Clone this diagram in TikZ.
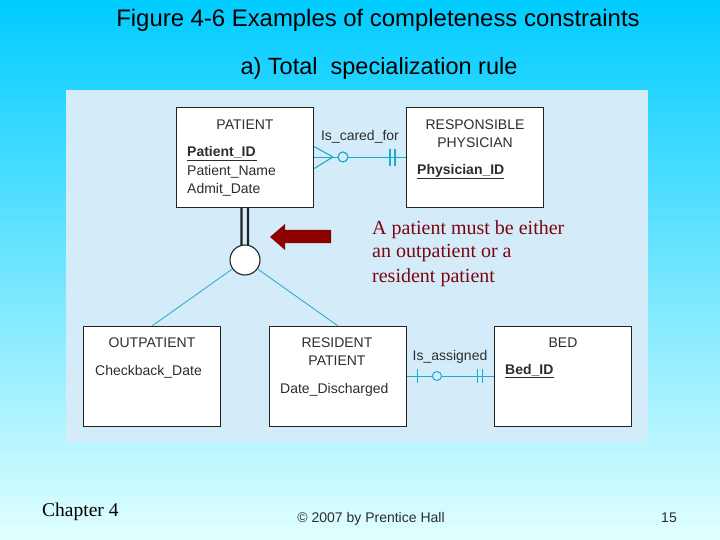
\documentclass[tikz,border=0pt]{standalone}
\usepackage{fontspec}
\setmainfont{Liberation Sans}
\newfontfamily\seriffont{Liberation Serif}
\definecolor{bgtop}{RGB}{0,204,255}
\definecolor{bgmid}{RGB}{140,222,252}
\definecolor{bgbot}{RGB}{225,255,255}
\definecolor{panel}{RGB}{212,236,250}
\definecolor{conn}{RGB}{30,170,200}
\definecolor{dred}{RGB}{140,0,0}
\definecolor{txtred}{RGB}{125,5,15}
\definecolor{boxtxt}{RGB}{45,45,45}
\definecolor{boxline}{RGB}{35,35,35}
\tikzset{
  entity/.style={draw=boxline, line width=1.1pt, fill=white, minimum width=137pt, minimum height=100pt, inner sep=0pt, anchor=north west},
  etext/.style={text=boxtxt, font=\fontsize{14}{17}\selectfont, inner sep=0pt},
  rel/.style={draw=conn, line width=1.6pt},
  subline/.style={draw=conn, line width=0.8pt},
  bar/.style={draw=conn, line width=1.2pt},
  redtext/.style={text=txtred, font=\seriffont\fontsize{20}{24}\selectfont, inner sep=0pt, anchor=base west}
}
\begin{document}
\begin{tikzpicture}[x=1pt, y=-1pt]
\useasboundingbox (0,0) rectangle (720,540);
\shade[top color=bgtop, middle color=bgmid, bottom color=bgbot] (0,0) rectangle (720,540);
\fill[panel] (66,90) rectangle (648,442);

% titles
\node[inner sep=0pt, anchor=base, font=\fontsize{23.9}{28}\selectfont] (title) at (378,27) {Figure 4-6 Examples of completeness constraints};
\node[inner sep=0pt, anchor=base, font=\fontsize{23.5}{28}\selectfont] (sub) at (379,75) {a) Total\ \ specialization rule};

% entities
\node[entity] (pat) at (176,107) {};
\node[entity] (phy) at (406,107) {};
\node[entity] (out) at (83,326) {};
\node[entity] (res) at (269,326) {};
\node[entity] (bed) at (494,326) {};

% entity texts
\node[etext, anchor=base] (patT) at (245,130) {PATIENT};
\node[etext, anchor=base west] (patA) at (187,157) {\textbf{Patient\_ID}};
\draw[boxtxt, line width=0.9pt] (patA.base west) ++(0,3.5) -- ++(70,0);
\node[etext, anchor=base west] (patB) at (187,176) {Patient\_Name};
\node[etext, anchor=base west] (patC) at (187,194) {Admit\_Date};

\node[etext, anchor=base] (phyT1) at (475,130) {RESPONSIBLE};
\node[etext, anchor=base] (phyT2) at (475,148) {PHYSICIAN};
\node[etext, anchor=base west] (phyA) at (417,175) {\textbf{Physician\_ID}};
\draw[boxtxt, line width=0.9pt] (phyA.base west) ++(0,3.5) -- ++(87,0);

\node[etext, anchor=base] (outT) at (152,347) {OUTPATIENT};
\node[etext, anchor=base west] (outA) at (95,375) {Checkback\_Date};

\node[etext, anchor=base] (resT1) at (337,347) {RESIDENT};
\node[etext, anchor=base] (resT2) at (337,365) {PATIENT};
\node[etext, anchor=base west] (resA) at (280,393) {Date\_Discharged};

\node[etext, anchor=base] (bedT) at (563,347) {BED};
\node[etext, anchor=base west] (bedA) at (505,374) {\textbf{Bed\_ID}};
\draw[boxtxt, line width=0.9pt] (bedA.base west) ++(0,3.5) -- ++(49,0);

% relationship Is_cared_for
\draw[rel] (pat.east) -- (phy.west);
\node[etext, anchor=base] (cfl) at (360,141) {Is\_cared\_for};
\coordinate (cfapex) at (333,157);
\draw[rel, line width=1.1pt] (cfapex) -- ([yshift=-11]pat.east);
\draw[rel, line width=1.1pt] (cfapex) -- ([yshift=11]pat.east);
\draw[bar, fill=panel] (343,157) circle[radius=5];
\draw[bar] (390,149) -- (390,166);
\draw[bar] (395,149) -- (395,166);

% relationship Is_assigned
\draw[rel, line width=1.1pt] (res.east) -- (bed.west);
\node[etext, anchor=base] (asl) at (450,360) {Is\_assigned};
\draw[bar, line width=1pt] (417,369) -- (417,383);
\draw[bar, line width=1pt, fill=panel] (437,376) circle[radius=4.5];
\draw[bar, line width=1pt] (477,369) -- (477,383);
\draw[bar, line width=1pt] (482,369) -- (482,383);

% specialization circle
\node[draw=boxline, line width=1.1pt, fill=white, circle, minimum size=30pt, inner sep=0pt] (d) at (245,260) {};
\draw[boxline, line width=2.2pt] ([xshift=-3.5]pat.south) -- ([xshift=-3.5,yshift=-1]d.north);
\draw[boxline, line width=2.2pt] ([xshift=3]pat.south) -- ([xshift=3,yshift=-1]d.north);
\draw[subline] (d) -- (out.north);
\draw[subline] (d) -- (res.north);

% red arrow and note
\fill[dred] (270,237) -- (285,224) -- (285,230) -- (331,230) -- (331,243) -- (285,243) -- (285,250) -- cycle;
\node[redtext] (n1) at (372,234) {A patient must be either};
\node[redtext] (n2) at (372,258) {an outpatient or a};
\node[redtext] (n3) at (372,282) {resident patient};

% footer
\node[inner sep=0pt, anchor=base west, font=\seriffont\fontsize{19.5}{23}\selectfont] (chap) at (42,516) {Chapter 4};
\node[inner sep=0pt, anchor=base, font=\fontsize{14}{17}\selectfont, text=boxtxt] (copy) at (371,522) {© 2007 by Prentice Hall};
\node[inner sep=0pt, anchor=base, font=\fontsize{14}{17}\selectfont, text=boxtxt] (page) at (669,522) {15};
\end{tikzpicture}
\end{document}
